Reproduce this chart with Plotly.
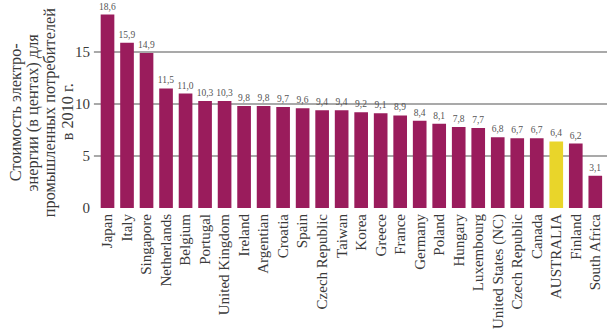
import plotly.graph_objects as go

countries = ["Japan", "Italy", "Singapore", "Netherlands", "Belgium", "Portugal",
             "United Kingdom", "Ireland", "Argentian", "Croatia", "Spain",
             "Czech Republic", "Taiwan", "Korea", "Greece", "France", "Germany",
             "Poland", "Hungary", "Luxembourg", "United States (NC)",
             "Czech Republic", "Canada", "AUSTRALIA", "Finland", "South Africa"]
prices = [18.6, 15.9, 14.9, 11.5, 11.0, 10.3, 10.3, 9.8, 9.8, 9.7, 9.6, 9.4, 9.4,
          9.2, 9.1, 8.9, 8.4, 8.1, 7.8, 7.7, 6.8, 6.7, 6.7, 6.4, 6.2, 3.1]
highlight = "AUSTRALIA"
y_ticks = [0, 5, 10, 15]
grid_levels = [5, 10, 15]
title_lines = ["Стоимость электро-", "энергии (в центах) для",
               "промышленных потребителей", "в 2010 г."]

BAR = "#9a1c5c"
HIGHLIGHT = "#e9d52a"
TEXT = "#3a3a3a"
SERIF = "Liberation Serif, Times New Roman, serif"

positions = list(range(len(countries)))
colors = [HIGHLIGHT if c == highlight else BAR for c in countries]
labels = [f"{v:.1f}".replace(".", ",") for v in prices]

fig = go.Figure(go.Bar(
    x=positions,
    y=prices,
    width=0.7,
    marker=dict(color=colors, line=dict(width=0)),
    text=labels,
    textposition="outside",
    textfont=dict(family=SERIF, size=9.5, color="#555555"),
    cliponaxis=False,
))

for lvl in grid_levels:
    fig.add_shape(type="line", xref="paper", yref="y", x0=-0.012, x1=1,
                  y0=lvl, y1=lvl, line=dict(color="#555555", width=1.2),
                  layer="below")

# vertical axis title, one rotated annotation per line for tight leading
line_x = [-0.168, -0.134, -0.099, -0.065]
for txt, lx in zip(title_lines, line_x):
    fig.add_annotation(
        text=txt, xref="paper", yref="paper", x=lx, y=0.46,
        xanchor="center", yanchor="middle", textangle=-90, showarrow=False,
        font=dict(family=SERIF, size=16.3, color=TEXT),
    )

fig.update_layout(
    width=610, height=329,
    margin=dict(l=100, r=3, t=0, b=119),
    paper_bgcolor="white", plot_bgcolor="white",
    showlegend=False,
    uniformtext=dict(minsize=9, mode="show"),
    xaxis=dict(
        range=[-0.385, 25.6],
        tickmode="array", tickvals=positions, ticktext=countries,
        tickangle=-90, showgrid=False, zeroline=False, showline=False,
        ticks="", ticklabelstandoff=2,
        tickfont=dict(family=SERIF, size=15, color=TEXT),
    ),
    yaxis=dict(
        range=[0, 20.0],
        tickmode="array", tickvals=y_ticks,
        showgrid=False, zeroline=False, showline=False, ticks="",
        ticklabelstandoff=9,
        tickfont=dict(family=SERIF, size=15, color=TEXT),
    ),
)

fig.write_html("out.html")
